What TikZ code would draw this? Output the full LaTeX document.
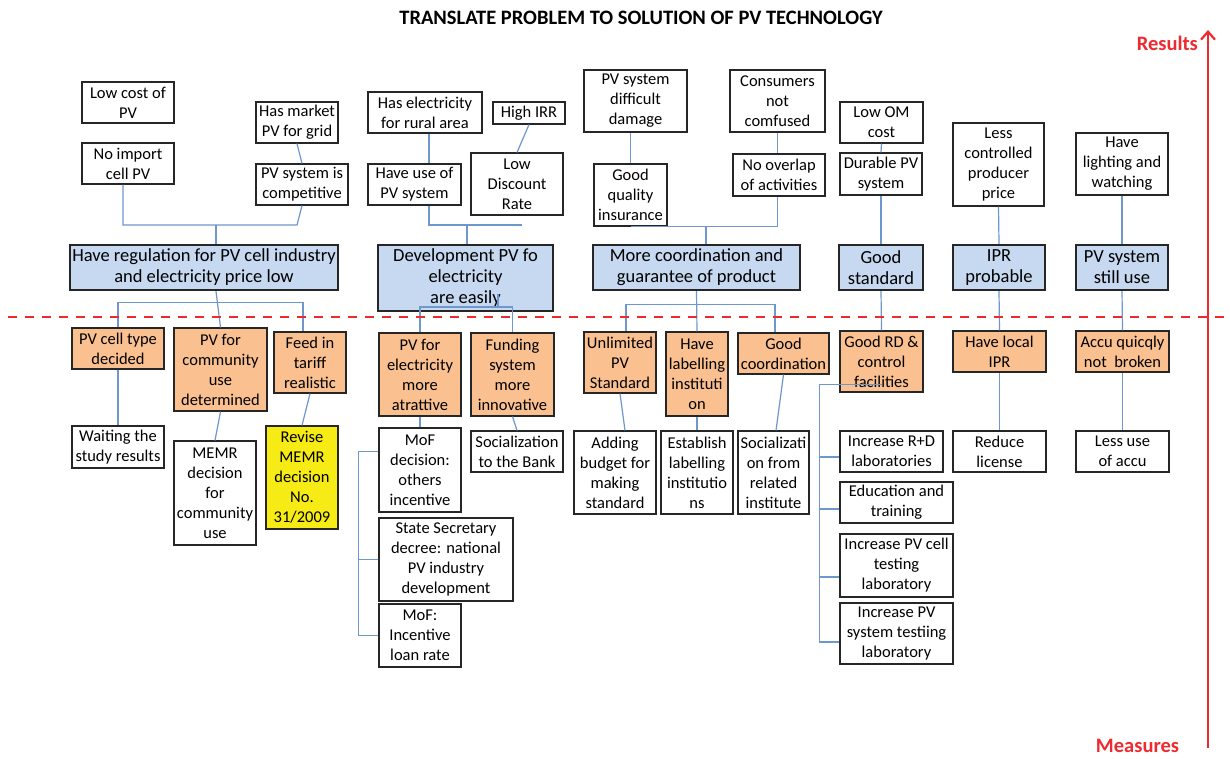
\documentclass[tikz,border=0pt]{standalone}
\usepackage{fontspec}
\setmainfont{Carlito}
\usetikzlibrary{arrows.meta}
\definecolor{goalblue}{HTML}{C6D9F1}
\definecolor{measorange}{HTML}{FAC090}
\definecolor{hiyellow}{HTML}{F6EB14}
\definecolor{linkblue}{HTML}{6E97CB}
\definecolor{axisred}{HTML}{EE2A2F}
\tikzset{
  box/.style={draw=black!85, line width=1.1pt, fill=white, inner sep=0pt,
    align=center, font=\fontsize{16.5}{20}\selectfont},
  goalbox/.style={box, fill=goalblue, line width=2.4pt, font=\fontsize{18.5}{21}\selectfont},
  measbox/.style={box, fill=measorange},
  keybox/.style={box, fill=hiyellow},
  conn/.style={draw=linkblue, line width=1.2pt},
  reddash/.style={draw=axisred, line width=2pt, dash pattern=on 9pt off 8pt},
  redaxis/.style={draw=axisred, line width=2.2pt, -{Straight Barb[length=8pt,width=14pt,line width=2.2pt]}},
  redlabel/.style={text=axisred, font=\fontsize{20.5}{24}\selectfont\bfseries, inner sep=0pt},
  titlelabel/.style={font=\fontsize{20.5}{24}\selectfont\bfseries, inner sep=0pt}
}
% \bx{name}{style}{left}{top}{right}{bottom}{text}
\newcommand\bx[7]{\node[#2, minimum width={#5-#3}, minimum height={#6-#4}] (#1) at ({(#3+#5)/2},{(#4+#6)/2}) {#7};}
\begin{document}
\begin{tikzpicture}[x=1pt,y=-1pt]
\useasboundingbox[fill=white] (0,0) rectangle (1230,758);

\node[titlelabel] (title) at (641,18) {TRANSLATE PROBLEM TO SOLUTION OF PV TECHNOLOGY};

% ---------- column 1 ----------
\bx{lowcost}{box}{82}{82}{174}{123}{Low cost of\\PV}
\bx{noimport}{box}{82}{143}{174}{184}{No import\\cell PV}
\bx{hasmarket}{box}{256}{102}{338}{143}{Has market\\PV for grid}
\bx{competitive}{box}{256}{164}{348}{205}{PV system is\\competitive}
\bx{reg}{goalbox}{70}{245}{338}{290}{Have regulation for PV cell industry\\and electricity price low}
\bx{celltype}{measbox}{72}{328}{164}{369}{PV cell type\\decided}
\bx{community}{measbox}{174}{328}{267}{411}{PV for\\community\\use\\determined}
\bx{feed}{measbox}{274}{332}{346}{393}{Feed in\\tariff\\realistic}
\bx{waiting}{box}{72}{426}{164}{468}{Waiting the\\study results}
\bx{memr}{box}{174}{441}{256}{545}{MEMR\\decision\\for\\community\\use}
\bx{revise}{keybox}{266}{426}{338}{529}{Revise\\MEMR\\decision\\No.\\31/2009}

% ---------- column 2 ----------
\bx{rural}{box}{368}{92}{482}{133}{Has electricity\\for rural area}
\bx{highirr}{box}{493}{102}{565}{124}{High IRR}
\bx{haveuse}{box}{368}{164}{461}{205}{Have use of\\PV system}
\bx{lowdisc}{box}{471}{153}{563}{215}{Low\\Discount\\Rate}
\bx{dev}{goalbox}{378}{245}{553}{311}{Development PV fo\\electricity\\are easily}
\bx{pvelec}{measbox}{379}{333}{461}{416}{PV for\\electricity\\more\\atrattive}
\bx{funding}{measbox}{471}{333}{554}{416}{Funding\\system\\more\\innovative}
\bx{mofa}{box}{379}{428}{461}{512}{MoF\\decision:\\others\\incentive}
\bx{socbank}{box}{471}{431}{563}{472}{Socialization\\to the Bank}
\bx{state}{box}{379}{518}{513}{601}{State Secretary\\decree: national\\PV industry\\development}
\bx{mofb}{box}{379}{604}{461}{667}{MoF:\\Incentive\\loan rate}

% ---------- column 3 ----------
\bx{difficult}{box}{584}{70}{687}{132}{PV system\\difficult\\damage}
\bx{consumers}{box}{730}{70}{825}{132}{Consumers\\not\\comfused}
\bx{goodq}{box}{594}{164}{667}{226}{Good\\quality\\insurance}
\bx{nooverlap}{box}{733}{154}{825}{196}{No overlap\\of activities}
\bx{coordbox}{goalbox}{593}{245}{800}{290}{More coordination and\\guarantee of product}
\bx{unlimited}{measbox}{584}{332}{656}{393}{Unlimited\\PV\\Standard}
\bx{labelling}{measbox}{666}{332}{728}{416}{Have\\labelling\\instituti\\on}
\bx{goodco}{measbox}{738}{333}{829}{374}{Good\\coordination}
\bx{adding}{box}{574}{431}{656}{514}{Adding\\budget for\\making\\standard}
\bx{establish}{box}{661}{431}{733}{514}{Establish\\labelling\\institutio\\ns}
\bx{socializ}{box}{738}{431}{809}{514}{Socializati\\on from\\related\\institute}

% ---------- column 4 ----------
\bx{lowom}{box}{840}{102}{923}{143}{Low OM\\cost}
\bx{durable}{box}{840}{153}{922}{195}{Durable PV\\system}
\bx{goodstd}{goalbox}{839}{245}{923}{290}{Good\\standard}
\bx{goodrd}{measbox}{840}{331}{923}{392}{Good RD \&\\control\\facilities}
\bx{incrd}{box}{840}{431}{943}{472}{Increase R+D\\laboratories}
\bx{edu}{box}{840}{482}{953}{523}{Education and\\training}
\bx{pvcell}{box}{840}{534}{953}{597}{Increase PV cell\\testing\\laboratory}
\bx{pvsys}{box}{840}{603}{953}{664}{Increase PV\\system testiing\\laboratory}

% ---------- column 5 ----------
\bx{lesscontrolled}{box}{953}{123}{1044}{206}{Less\\controlled\\producer\\price}
\bx{ipr}{goalbox}{953}{245}{1045}{290}{IPR\\probable}
\bx{localipr}{measbox}{953}{331}{1046}{372}{Have local\\IPR}
\bx{reduce}{box}{953}{431}{1046}{472}{Reduce\\license}

% ---------- column 6 ----------
\bx{lighting}{box}{1076}{133}{1168}{195}{Have\\lighting and\\watching}
\bx{still}{goalbox}{1076}{245}{1168}{290}{PV system\\still use}
\bx{accu}{measbox}{1076}{331}{1169}{372}{Accu quicqly\\not\ \ broken}
\bx{lessuse}{box}{1076}{431}{1169}{472}{Less use\\of accu}

% ---------- connectors, column 1 ----------
\draw[conn] (hasmarket.south) -- (competitive.north);
\coordinate (ja) at (216,225);
\draw[conn] ([xshift=-5]noimport.south) |- ([xshift=-5]competitive.south |- ja) -- (competitive.south);
\draw[conn] (ja) -- (ja |- reg.north);
\draw[conn] ([xshift=12]reg.south) -- (community.north);
\draw[conn] (celltype.north) -- ++(0,-25) -| ([xshift=-7]feed.north);
\draw[conn] (celltype.south) -- (waiting.north);
\draw[conn] (community.south) -- (memr.north);
\draw[conn] (feed.south) -- (revise.north);

% ---------- connectors, column 2 ----------
\draw[conn] ([xshift=4]rural.south) -- ([xshift=4]rural.south |- haveuse.north);
\draw[conn] (highirr.south) -- (lowdisc.north);
\coordinate (jb) at (467,225);
\coordinate (jbend) at (522,225);
\draw[conn] ([xshift=14.5]haveuse.south) |- (jbend);
\draw[conn] (jb) -- (jb |- dev.north);
\coordinate (kb) at (498,307);
\draw[conn] (kb |- dev.south) ++(0,-18) -- (kb);
\draw[conn] (pvelec.north) |- (kb) -| (funding.north);
\draw[conn] (pvelec.south) -- (mofa.north);
\draw[conn] (funding.south) -- (socbank.north);
\draw[conn] ([yshift=-24]mofa.north west) -- ++(-20,0) |- (mofb.west);
\draw[conn] (state.west) -- ++(-20,0);

% ---------- connectors, column 3 ----------
\draw[conn] (goodq.north) -- (goodq.north |- difficult.south);
\draw[conn] (consumers.south) -- (consumers.south |- nooverlap.north);
\draw[conn] (goodq.south) -- (goodq.south -| consumers.south) -- (consumers.south |- nooverlap.south);
\coordinate (jc) at (706,226);
\draw[conn] (jc) -- (jc |- coordbox.north);
\draw[conn] (coordbox.south) -- (labelling.north);
\draw[conn] ([xshift=6]unlimited.north) -- ++(0,-27) -| ([xshift=-8.5]goodco.north);
\draw[conn] (unlimited.south) -- ([xshift=10]adding.north);
\draw[conn] (labelling.south) -- (establish.north);
\draw[conn] (goodco.south) -- ([xshift=2.5]socializ.north);

% ---------- connectors, columns 4 to 6 ----------
\draw[conn] (lowom.south) -- (durable.north);
\draw[conn] (durable.south) -- (goodstd.north);
\draw[conn] (goodstd.south) -- (goodrd.north);
\coordinate (kd) at ([yshift=8]goodrd.south);
\draw[conn] (kd) -- ++(-62,0) |- ([yshift=-8.5]pvsys.west);
\draw[conn] ([yshift=-5.5]incrd.west) -- ++(-20,0);
\draw[conn] ([yshift=-6.5]edu.west) -- ++(-20,0);
\draw[conn] ([yshift=-11.5]pvcell.west) -- ++(-20,0);
\draw[conn] (lesscontrolled.south) -- (ipr.north);
\draw[conn] (ipr.south) -- (localipr.north);
\draw[conn] (localipr.south) -- (reduce.north);
\draw[conn] (lighting.south) -- (still.north);
\draw[conn] (still.south) -- (accu.north);
\draw[conn] (accu.south) -- (lessuse.north);

% ---------- boundary line and axis ----------
\coordinate (dl) at (8,317);
\coordinate (dr) at (1228,317);
\draw[reddash] (dl) -- (dr);
\coordinate (axbot) at (1208,748);
\coordinate (axtop) at (1208,30);
\draw[redaxis] (axbot) -- (axtop);
\node[redlabel, anchor=east] (results) at (1198,43) {Results};
\node[redlabel, anchor=base] (measures) at (1137.5,752) {Measures};
\end{tikzpicture}
\end{document}
